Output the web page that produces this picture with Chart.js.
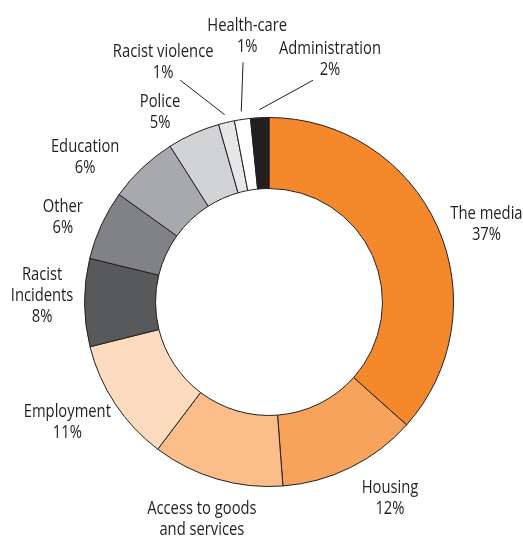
<!DOCTYPE html>
<html>
<head>
<meta charset="utf-8">
<script src="https://cdn.jsdelivr.net/npm/chart.js"></script>
<style>
  html, body { margin: 0; padding: 0; background: #fff; }
  #wrap { width: 523px; height: 538px; }
</style>
</head>
<body>
<div id="wrap"><canvas id="chart" width="523" height="538"></canvas></div>
<script>
// Data (share of complaints, %)
const categories = [
  'The media', 'Housing', 'Access to goods\nand services', 'Employment',
  'Racist\nIncidents', 'Other', 'Education', 'Police',
  'Racist violence', 'Health-care', 'Administration'
];
const shares = [36.6, 12.2, 11.5, 10.8, 7.7, 6.1, 6.1, 4.6, 1.4, 1.4, 1.6];
const colours = [
  '#f5882a', '#f7a35c', '#fbbe8a', '#fddbbf',
  '#58595b', '#808285', '#a7a9ac', '#d1d3d4',
  '#e6e7e8', '#ffffff', '#231f20'
];

// label placement: [turn from slice middle in degrees, distance from centre]
const labelNudge = [
  [4.4, 231], [-5.3, 231], [0, 238], [2.6, 235],
  [1.7, 227], [-2.3, 223], [-8.4, 234], [-5.7, 219],
  [-10.5, 262], [3.6, 267], [17, 250]
];
// leader line ends for the small slices: [turn in degrees, distance]
const leaders = { 8: [-8.5, 239], 9: [2.1, 241], 10: [14.1, 226] };

const deg = Math.PI / 180;
const squeeze = 0.82; // condensed look for the label type

const labelPlugin = {
  id: 'outerLabels',
  afterDatasetsDraw(chart) {
    const c = chart.ctx;
    const arcs = chart.getDatasetMeta(0).data;
    c.save();
    c.font = '18px "Open Sans", "Noto Sans", sans-serif';
    c.fillStyle = '#231f20';
    c.strokeStyle = '#231f20';
    c.lineWidth = 1;
    c.textAlign = 'center';
    c.textBaseline = 'middle';
    arcs.forEach((arc, i) => {
      const { x, y, startAngle, endAngle, outerRadius } = arc.getProps(
        ['x', 'y', 'startAngle', 'endAngle', 'outerRadius'], true);
      const mid = (startAngle + endAngle) / 2;
      const a = mid + labelNudge[i][0] * deg;
      const r = labelNudge[i][1];
      const lx = x + Math.cos(a) * r;
      const ly = y + Math.sin(a) * r;
      const lines = categories[i].split('\n');
      lines.push(Math.round(shares[i]) + '%');
      const lh = 21;
      const top = ly - (lines.length - 1) * lh / 2;
      lines.forEach((t, k) => {
        c.save();
        c.translate(lx, top + k * lh);
        c.scale(squeeze, 1);
        c.fillText(t, 0, 0);
        c.restore();
      });

      if (leaders[i]) {
        const r0 = outerRadius + 8;
        const la = mid + leaders[i][0] * deg;
        c.beginPath();
        c.moveTo(x + Math.cos(mid) * r0, y + Math.sin(mid) * r0);
        c.lineTo(x + Math.cos(la) * leaders[i][1], y + Math.sin(la) * leaders[i][1]);
        c.stroke();
      }
    });
    c.restore();
  }
};

new Chart(document.getElementById('chart'), {
  type: 'doughnut',
  data: {
    labels: categories,
    datasets: [{
      data: shares,
      backgroundColor: colours,
      borderColor: '#231f20',
      borderWidth: 1
    }]
  },
  options: {
    responsive: false,
    animation: false,
    cutout: '61.5%',
    layout: { padding: { top: 117, bottom: 51, left: 84, right: 69 } },
    plugins: {
      legend: { display: false },
      tooltip: { enabled: false }
    }
  },
  plugins: [labelPlugin]
});
</script>
</body>
</html>
